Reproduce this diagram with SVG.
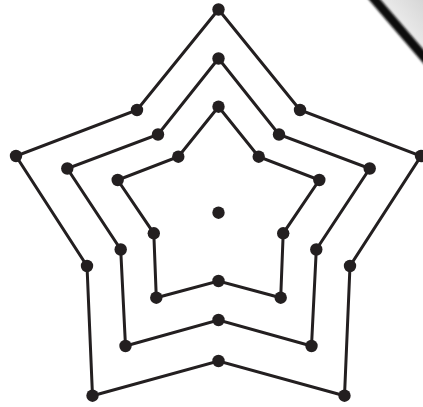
<svg xmlns="http://www.w3.org/2000/svg" width="423" height="407" viewBox="0 0 423 407">
  <style>
    .edge { fill: none; stroke: #231f20; stroke-width: 3; stroke-linejoin: miter; }
    .dot { fill: #231f20; }
  </style>
  <defs>
    <circle id="d" r="6.2" class="dot"/>
    <linearGradient id="curl" x1="0" y1="1" x2="1" y2="0">
      <stop offset="0" stop-color="#ffffff"/>
      <stop offset="1" stop-color="#d6d6d6"/>
    </linearGradient>
    <filter id="soft" x="-20%" y="-20%" width="140%" height="140%">
      <feGaussianBlur stdDeviation="0.9"/>
    </filter>
  </defs>
  <rect width="423" height="407" fill="#ffffff"/>
  <g id="page-curl">
    <polygon points="380,0 423,0 423,52" fill="url(#curl)"/>
    <line x1="360.4" y1="-17" x2="437.6" y2="73" stroke="#111111" stroke-width="9" filter="url(#soft)"/>
  </g>
  <g id="connectors">
    <polygon class="edge" points="218.5,9.5 300,110 421,156 350,266 344.5,395.7 218.5,361 92.5,395.7 87,266 16,156 137,110"/>
    <polygon class="edge" points="218.5,58.5 279,134.5 369.7,168.5 316.3,249.5 311.5,346 218.5,320 125.5,346 120.7,249.5 67.3,168.5 158,134.5"/>
    <polygon class="edge" points="218.5,106.7 258.7,156.7 319.3,180 283.2,233.3 280.7,297.7 218.5,281 156.3,297.7 153.8,233.3 117.7,180 178.3,156.7"/>
  </g>
  <g id="n-center"><use href="#d" x="218.5" y="212.7"/></g>
  <g id="n-o1"><use href="#d" x="218.5" y="9.5"/></g>
  <g id="n-o2"><use href="#d" x="300" y="110"/></g>
  <g id="n-o3"><use href="#d" x="421" y="156"/></g>
  <g id="n-o4"><use href="#d" x="350" y="266"/></g>
  <g id="n-o5"><use href="#d" x="344.5" y="395.7"/></g>
  <g id="n-o6"><use href="#d" x="218.5" y="361"/></g>
  <g id="n-o7"><use href="#d" x="92.5" y="395.7"/></g>
  <g id="n-o8"><use href="#d" x="87" y="266"/></g>
  <g id="n-o9"><use href="#d" x="16" y="156"/></g>
  <g id="n-o10"><use href="#d" x="137" y="110"/></g>
  <g id="n-m1"><use href="#d" x="218.5" y="58.5"/></g>
  <g id="n-m2"><use href="#d" x="279" y="134.5"/></g>
  <g id="n-m3"><use href="#d" x="369.7" y="168.5"/></g>
  <g id="n-m4"><use href="#d" x="316.3" y="249.5"/></g>
  <g id="n-m5"><use href="#d" x="311.5" y="346"/></g>
  <g id="n-m6"><use href="#d" x="218.5" y="320"/></g>
  <g id="n-m7"><use href="#d" x="125.5" y="346"/></g>
  <g id="n-m8"><use href="#d" x="120.7" y="249.5"/></g>
  <g id="n-m9"><use href="#d" x="67.3" y="168.5"/></g>
  <g id="n-m10"><use href="#d" x="158" y="134.5"/></g>
  <g id="n-i1"><use href="#d" x="218.5" y="106.7"/></g>
  <g id="n-i2"><use href="#d" x="258.7" y="156.7"/></g>
  <g id="n-i3"><use href="#d" x="319.3" y="180"/></g>
  <g id="n-i4"><use href="#d" x="283.2" y="233.3"/></g>
  <g id="n-i5"><use href="#d" x="280.7" y="297.7"/></g>
  <g id="n-i6"><use href="#d" x="218.5" y="281"/></g>
  <g id="n-i7"><use href="#d" x="156.3" y="297.7"/></g>
  <g id="n-i8"><use href="#d" x="153.8" y="233.3"/></g>
  <g id="n-i9"><use href="#d" x="117.7" y="180"/></g>
  <g id="n-i10"><use href="#d" x="178.3" y="156.7"/></g>
</svg>
